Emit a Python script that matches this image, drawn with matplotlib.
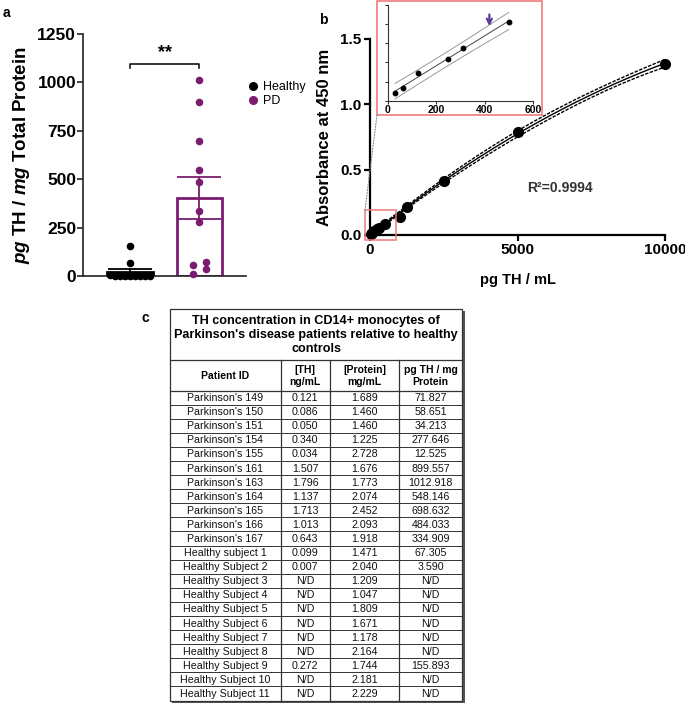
import numpy as np
import matplotlib
matplotlib.use('Agg')
import matplotlib.pyplot as plt
from matplotlib.patches import Rectangle, ConnectionPatch
from matplotlib.lines import Line2D

plt.rcParams['font.family'] = ['Liberation Sans', 'DejaVu Sans']
plt.rcParams['mathtext.fontset'] = 'custom'
plt.rcParams['mathtext.it'] = 'Liberation Sans:italic:bold'
plt.rcParams['mathtext.rm'] = 'Liberation Sans:bold'
plt.rcParams['mathtext.bf'] = 'Liberation Sans:bold'

# ---------------- data ----------------
patient_ids = ["Parkinson's 149", "Parkinson's 150", "Parkinson's 151", "Parkinson's 154",
               "Parkinson's 155", "Parkinson's 161", "Parkinson's 163", "Parkinson's 164",
               "Parkinson's 165", "Parkinson's 166", "Parkinson's 167",
               "Healthy subject 1", "Healthy Subject 2", "Healthy Subject 3", "Healthy Subject 4",
               "Healthy Subject 5", "Healthy Subject 6", "Healthy Subject 7", "Healthy Subject 8",
               "Healthy Subject 9", "Healthy Subject 10", "Healthy Subject 11"]
th_ngml = ["0.121", "0.086", "0.050", "0.340", "0.034", "1.507", "1.796", "1.137", "1.713",
           "1.013", "0.643", "0.099", "0.007", "N/D", "N/D", "N/D", "N/D", "N/D", "N/D",
           "0.272", "N/D", "N/D"]
protein_mgml = ["1.689", "1.460", "1.460", "1.225", "2.728", "1.676", "1.773", "2.074", "2.452",
                "2.093", "1.918", "1.471", "2.040", "1.209", "1.047", "1.809", "1.671", "1.178",
                "2.164", "1.744", "2.181", "2.229"]
pg_th_per_mg = ["71.827", "58.651", "34.213", "277.646", "12.525", "899.557", "1012.918",
                "548.146", "698.632", "484.033", "334.909", "67.305", "3.590", "N/D", "N/D",
                "N/D", "N/D", "N/D", "N/D", "155.893", "N/D", "N/D"]
groups = ["PD"] * 11 + ["Healthy"] * 11
table_title = "TH concentration in CD14+ monocytes of\nParkinson's disease patients relative to healthy\ncontrols"
col_headers = ["Patient ID", "[TH]\nng/mL", "[Protein]\nmg/mL", "pg TH / mg\nProtein"]

# standard curve (panel b)
std_conc = [31.25, 62.5, 125, 250, 312.5, 500, 1000, 1250, 2500, 5000, 10000]
std_abs = [0.0077, 0.0136, 0.0286, 0.0438, 0.0550, 0.0822, 0.138, 0.213, 0.415, 0.785, 1.312]
inset_n = 6
r_squared = "0.9994"
marked_conc = 420

# jitter offsets (x positions of dots within each column, in table order)
pd_offsets = [0.10, -0.10, 0.10, 0.0, -0.10, 0.0, 0.0, 0.0, 0.0, 0.0, 0.0]
row_pos = [-0.29, -0.217, -0.145, -0.072, 0.0, 0.072, 0.145, 0.217, 0.29]

PURPLE = "#7B1C70"
AXC = "#222222"

W, H = 685, 703
fig = plt.figure(figsize=(W / 100, H / 100), dpi=100)


def px_rect(x0, y0, x1, y1):
    return [x0 / W, 1 - y1 / H, (x1 - x0) / W, (y1 - y0) / H]


# ---------------- panel a ----------------
vals = np.array([0.0 if v == "N/D" else float(v) for v in pg_th_per_mg])
grp = np.array(groups)
pd_vals = vals[grp == "PD"]
h_vals = vals[grp == "Healthy"]

axa = fig.add_axes(px_rect(83, 34, 246, 276))
axa.set_xlim(-0.676, 1.669)
axa.set_ylim(0, 1250)
means = [h_vals.mean(), pd_vals.mean()]
sems = [h_vals.std(ddof=1) / np.sqrt(len(h_vals)), pd_vals.std(ddof=1) / np.sqrt(len(pd_vals))]
cols = ["black", PURPLE]
for i in range(2):
    axa.bar(i, means[i], width=0.65, facecolor="white", edgecolor=cols[i], linewidth=2.0, zorder=1)
    axa.errorbar(i, means[i], yerr=sems[i], color=cols[i], capsize=16, elinewidth=1.3,
                 capthick=1.3, zorder=2)
order_row = [k for k in range(len(h_vals)) if h_vals[k] < 10]
hx = np.zeros(len(h_vals))
for j, k in enumerate(order_row):
    hx[k] = row_pos[j]
axa.scatter(hx, h_vals, s=30, color="black", zorder=3, clip_on=False, linewidths=0)
axa.scatter(1 + np.array(pd_offsets), pd_vals, s=30, color=PURPLE, zorder=3, clip_on=False,
            linewidths=0)
# bracket
yb = 1095
axa.plot([0, 0, 1, 1], [yb - 22, yb, yb, yb - 22], color="black", lw=1.1)
axa.text(0.5, yb + 15, "**", ha="center", va="bottom", fontsize=13, fontweight="bold")

for s in ["top", "right"]:
    axa.spines[s].set_visible(False)
for s in ["left", "bottom"]:
    axa.spines[s].set_linewidth(1.2)
    axa.spines[s].set_color(AXC)
axa.set_xticks([])
axa.set_yticks([0, 250, 500, 750, 1000, 1250])
axa.tick_params(axis="y", length=4, width=1.2, color=AXC, labelsize=12.5, pad=1)
for t in axa.get_yticklabels():
    t.set_fontweight("bold")
axa.set_ylabel(r"$\mathit{pg}$ TH / $\mathit{mg}$ Total Protein", fontsize=13.5,
               fontweight="bold", labelpad=4)

handles = [Line2D([], [], marker="o", ls="", color="black", markersize=5.5),
           Line2D([], [], marker="o", ls="", color=PURPLE, markersize=5.5)]
axa.legend(handles, ["Healthy", "PD"], loc="upper left", bbox_to_anchor=(0.96, 0.83),
           frameon=False, fontsize=9, handletextpad=0.2, labelspacing=0.15, borderpad=0,
           handlelength=1.2)

fig.text(3 / W, 1 - 13 / H, "a", fontsize=10, fontweight="bold", va="center")

# ---------------- panel b ----------------
xs_d = np.array(std_conc)
ys_d = np.array(std_abs)
axb = fig.add_axes(px_rect(370, 39, 665, 235))
axb.set_xlim(0, 10000)
axb.set_ylim(0, 1.5)
coef, cov = np.polyfit(xs_d, ys_d, 2, cov=True)
xx = np.linspace(0, 10000, 400)
yy = np.polyval(coef, xx)
J = np.vstack([xx ** 2, xx, np.ones_like(xx)]).T
se = np.sqrt(np.einsum("ij,jk,ik->i", J, cov, J))
band = 2.26 * se
axb.plot(xx, yy, color="black", lw=1.0, zorder=2)
axb.plot(xx, yy + band, color="black", lw=1.0, ls=(0, (2.5, 1)), zorder=2)
axb.plot(xx, yy - band, color="black", lw=1.0, ls=(0, (2.5, 1)), zorder=2)
axb.plot(xs_d, ys_d, "o", color="black", markersize=7, zorder=3, clip_on=False)
for s in ["top", "right"]:
    axb.spines[s].set_visible(False)
for s in ["left", "bottom"]:
    axb.spines[s].set_linewidth(1.6)
    axb.spines[s].set_color("black")
axb.set_xticks([0, 5000, 10000])
axb.set_yticks([0, 0.5, 1.0, 1.5])
axb.set_yticklabels(["0.0", "0.5", "1.0", "1.5"])
axb.tick_params(length=4, width=1.6, labelsize=11, pad=2)
for t in axb.get_xticklabels() + axb.get_yticklabels():
    t.set_fontweight("bold")
axb.set_xlabel("pg TH / mL", fontsize=10.5, fontweight="bold", labelpad=11)
axb.set_ylabel("Absorbance at 450 nm", fontsize=12, fontweight="bold", labelpad=6)
axb.text(6440, 0.36, "R\u00b2=" + r_squared, fontsize=10, fontweight="bold", ha="center",
         va="center", color="#333333")

RED = "#EE7B7B"
zr = Rectangle((-170, -0.038), 1041, 0.229, fill=False, edgecolor=RED, lw=1.1, clip_on=False,
               zorder=4)
axb.add_patch(zr)
fig.add_artist(Rectangle((377 / W, 1 - 115 / H), 165 / W, 114 / H, fill=False, edgecolor=RED,
                         lw=1.2, transform=fig.transFigure))
con = ConnectionPatch(xyA=(-170, 0.191), coordsA=axb.transData, xyB=(377 / W, 1 - 115 / H),
                      coordsB=fig.transFigure, color="#888888", lw=0.8, ls=(0, (1, 1.5)))
fig.add_artist(con)

fig.text(323 / W, 1 - 20 / H, "b", fontsize=10, fontweight="bold", va="center", ha="center")

# inset
axi = fig.add_axes(px_rect(387.5, 5, 533, 100.7))
xi = xs_d[:inset_n]
yi = ys_d[:inset_n]
axi.set_xlim(0, 600)
axi.set_ylim(0, 0.1)
c1 = np.polyfit(xi, yi, 1)
xl = np.linspace(xi.min(), xi.max(), 50)
yl = np.polyval(c1, xl)
n = len(xi)
resid = yi - np.polyval(c1, xi)
s_err = np.sqrt(np.sum(resid ** 2) / (n - 2))
sxx = np.sum((xi - xi.mean()) ** 2)
pb = 2.776 * s_err * np.sqrt(1 + 1 / n + (xl - xi.mean()) ** 2 / sxx)
axi.plot(xl, yl, color="#444444", lw=0.7)
axi.plot(xl, yl + pb, color="#999999", lw=0.7)
axi.plot(xl, yl - pb, color="#999999", lw=0.7)
axi.plot(xi, yi, "o", color="black", markersize=3.2)
axi.annotate("", xy=(marked_conc, 0.075), xytext=(marked_conc, 0.093),
             arrowprops=dict(arrowstyle="->", color="#5B3B9B", lw=1.6, mutation_scale=9))
for s in ["top", "right"]:
    axi.spines[s].set_visible(False)
for s in ["left", "bottom"]:
    axi.spines[s].set_linewidth(0.8)
    axi.spines[s].set_color("#333333")
axi.set_xticks([0, 200, 400, 600])
axi.set_yticks([0, 0.02, 0.04, 0.06, 0.08, 0.1])
axi.set_yticklabels([])
axi.tick_params(length=2, width=0.8, labelsize=7.5, pad=1, color="#333333")
for t in axi.get_xticklabels():
    t.set_fontweight("bold")

# ---------------- panel c (table) ----------------
TL, TR, TT, TB = 170, 462.5, 309, 700.5
axt = fig.add_axes(px_rect(TL - 2, TT - 2, TR + 4, TB + 4))
axt.set_xlim(TL - 2, TR + 4)
axt.set_ylim(TB + 4, TT - 2)
axt.axis("off")
col_edges = [TL, 280.5, 330, 399, TR]
title_bot = 360
head_bot = 390.5
nrows = len(patient_ids)
row_h = (TB - head_bot) / nrows
LC = "#333333"
axt.add_patch(Rectangle((TL + 2.2, TT + 2.2), TR - TL, TB - TT, facecolor="#555555",
                        edgecolor="none", zorder=0))
axt.add_patch(Rectangle((TL, TT), TR - TL, TB - TT, facecolor="white", edgecolor=LC, lw=0.9,
                        zorder=1))
axt.plot([TL, TR], [title_bot, title_bot], color=LC, lw=0.9, zorder=2)
axt.plot([TL, TR], [head_bot, head_bot], color=LC, lw=0.9, zorder=2)
for i in range(1, nrows):
    y = head_bot + i * row_h
    axt.plot([TL, TR], [y, y], color=LC, lw=0.7, zorder=2)
for xe in col_edges[1:-1]:
    axt.plot([xe, xe], [title_bot, TB], color=LC, lw=0.9, zorder=2)
axt.text((TL + TR) / 2, (TT + title_bot) / 2 + 0.5, table_title, ha="center", va="center",
         fontsize=9.1, fontweight="bold", linespacing=1.22, zorder=3)
centers = [(col_edges[k] + col_edges[k + 1]) / 2 for k in range(4)]
for k, hd in enumerate(col_headers):
    axt.text(centers[k], (title_bot + head_bot) / 2 + 0.5, hd, ha="center", va="center",
             fontsize=7.5, fontweight="bold", linespacing=1.25, zorder=3)
columns = [patient_ids, th_ngml, protein_mgml, pg_th_per_mg]
for i in range(nrows):
    y = head_bot + (i + 0.5) * row_h + 0.5
    for k in range(4):
        axt.text(centers[k], y, columns[k][i], ha="center", va="center", fontsize=7.7,
                 zorder=3, color="#111111")

fig.text(145 / W, 1 - 318 / H, "c", fontsize=10, fontweight="bold", va="center", ha="center")

fig.savefig("out.png", dpi=100)
